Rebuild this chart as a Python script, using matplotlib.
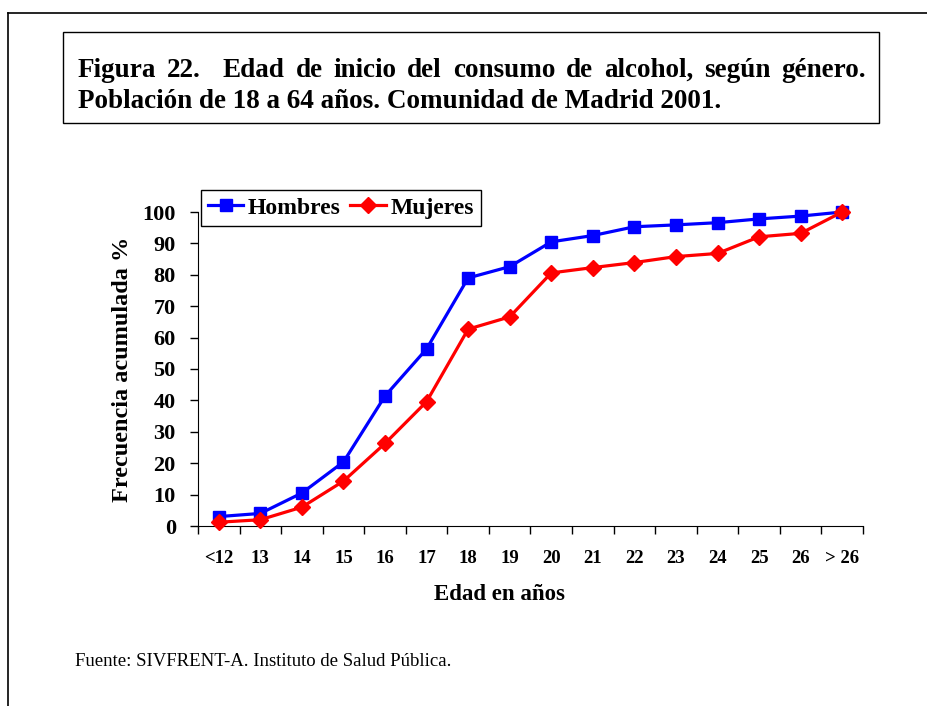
import matplotlib.pyplot as plt
import numpy as np
from matplotlib.lines import Line2D
from matplotlib.patches import Rectangle

plt.rcParams['font.family'] = ['Liberation Serif', 'DejaVu Serif']

edades = ['<12', '13', '14', '15', '16', '17', '18', '19', '20', '21',
          '22', '23', '24', '25', '26', '> 26']
hombres = [3.0, 4.0, 10.5, 20.4, 41.4, 56.4, 79.0, 82.6, 90.5, 92.5,
           95.3, 95.9, 96.6, 97.8, 98.7, 100.0]
mujeres = [1.2, 2.0, 6.0, 14.3, 26.3, 39.6, 62.7, 66.6, 80.6, 82.3,
           83.9, 85.8, 86.8, 92.1, 93.2, 100.0]

titulo1 = 'Figura 22.  Edad de inicio del consumo de alcohol, según género.'
titulo2 = 'Población de 18 a 64 años. Comunidad de Madrid 2001.'
fuente = 'Fuente: SIVFRENT-A. Instituto de Salud Pública.'

fig = plt.figure(figsize=(9.28, 7.06), dpi=100)
W, H = 928, 706

def fx(px):
    return px / W

def fy(py):
    return 1 - py / H

# marco exterior
fig.add_artist(Line2D([fx(8), 1], [fy(13), fy(13)], color='black', lw=1.2))
fig.add_artist(Line2D([fx(8), fx(8)], [fy(13), 0], color='black', lw=1.2))

# caja del titulo
fig.add_artist(Rectangle((fx(63), fy(123)), fx(879) - fx(63), fy(32) - fy(123),
                         fill=False, edgecolor='black', lw=1.0))

# primera linea justificada (palabra a palabra); el doble espacio cuenta doble
renderer = fig.canvas.get_renderer()
palabras = titulo1.split(' ')
pesos = []
limpias = []
for p in palabras:
    if p == '':
        pesos[-1] += 1
    else:
        limpias.append(p)
        pesos.append(1)
pesos = pesos[:-1]
txts = [fig.text(0, fy(77), p, fontsize=19.5, fontweight='bold', va='baseline', ha='left')
        for p in limpias]
anchos = [t.get_window_extent(renderer).width for t in txts]
x0, x1 = 78, 866
hueco = (x1 - x0 - sum(anchos)) / sum(pesos)
pos = x0
for i, (t, w) in enumerate(zip(txts, anchos)):
    t.set_x(fx(pos))
    if i < len(pesos):
        pos += w + hueco * pesos[i]
fig.text(fx(78), fy(108), titulo2, fontsize=19.5, fontweight='bold', va='baseline', ha='left')

ax = fig.add_axes([fx(198), fy(526), fx(863) - fx(198), fy(212) - fy(526)])
x = np.arange(len(edades))
ax.plot(x, hombres, color='#0000ff', lw=2.3, marker='s', ms=9, label='Hombres', clip_on=False, zorder=3)
ax.plot(x, mujeres, color='#ff0000', lw=2.3, marker='D', ms=8, label='Mujeres', clip_on=False, zorder=4)

ax.set_xlim(-0.5, len(edades) - 0.5)
ax.set_ylim(0, 100)
ax.set_yticks(np.arange(0, 101, 10))
ax.set_yticklabels([str(v) for v in range(0, 101, 10)], fontsize=16, fontweight='bold')
ax.set_xticks(np.arange(-0.5, len(edades), 1.0))
ax.set_xticklabels([])
ax.set_xticks(x, minor=True)
ax.set_xticklabels(edades, minor=True, fontsize=13.5, fontweight='bold')
ax.tick_params(axis='x', which='major', direction='out', length=6, width=1)
ax.tick_params(axis='x', which='minor', length=0, pad=17)
ax.tick_params(axis='y', direction='out', length=6, width=1, pad=10)
for s in ['top', 'right']:
    ax.spines[s].set_visible(False)
ax.set_ylabel('Frecuencia acumulada %', fontsize=17.5, fontweight='bold', labelpad=7)
ax.set_xlabel('Edad en años', fontsize=16.5, fontweight='bold')
ax.xaxis.set_label_coords(0.454, -0.217)
ax.xaxis.label.set_va('center')

leg = ax.legend(loc='upper left', bbox_to_anchor=(fx(202) - fx(198), 1.07), bbox_transform=ax.transAxes,
                ncol=2, fancybox=False, edgecolor='black', framealpha=1,
                prop={'size': 17, 'weight': 'bold'}, handlelength=1.5, handletextpad=0.2,
                columnspacing=0.4, borderpad=0.3, borderaxespad=0)
leg.get_frame().set_linewidth(1.0)
leg.set_zorder(5)

fig.text(fx(75), fy(661), fuente, fontsize=13.5, va='center', ha='left')

fig.savefig('out.png', dpi=100)
